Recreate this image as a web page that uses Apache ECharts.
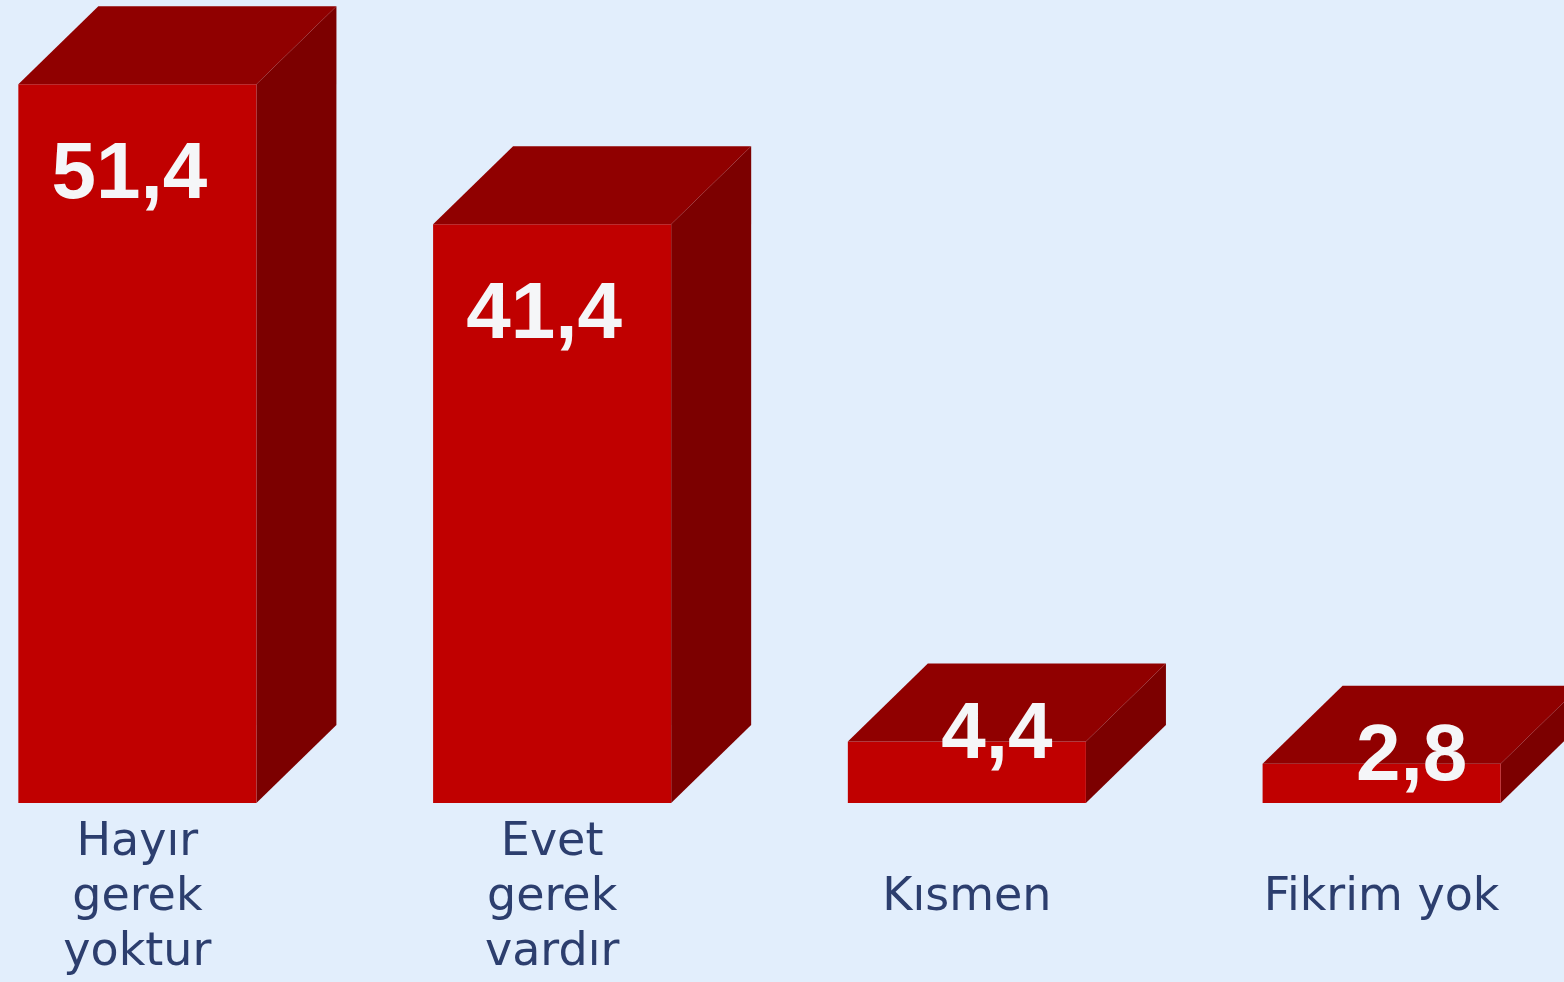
<!DOCTYPE html>
<html>
<head>
<meta charset="utf-8">
<style>
html,body{margin:0;padding:0;background:#e2eefc;overflow:hidden;width:1564px;height:982px;position:relative;}
#chart{position:absolute;left:-70px;top:0;width:1659px;height:982px;}
</style>
<script src="https://cdn.jsdelivr.net/npm/echarts@6/dist/echarts.min.js"></script>
</head>
<body>
<div id="chart"></div>
<script>
const categories = ['Hayır\ngerek\nyoktur', 'Evet\ngerek\nvardır', 'Kısmen', 'Fikrim yok'];
const values = [51.4, 41.4, 4.4, 2.8];
const valueLabels = ['51,4', '41,4', '4,4', '2,8'];

const chart = echarts.init(document.getElementById('chart'));
const DX = 80, DY = 78;

function renderItem(params, api) {
  const idx = api.value(0);
  const val = api.value(1);
  const top = api.coord([idx, val]);
  const base = api.coord([idx, 0]);
  const band = api.size([1, 0])[0];
  const w = band * 0.574;
  const x = top[0] - w / 2;
  const yT = top[1];
  const yB = base[1];
  const big = (yB - yT) > 200;
  const labelX = big ? top[0] - 8 : top[0] + DX / 2 - 10;
  const labelY = big ? yT + 92 : yT - 6;
  return {
    type: 'group',
    children: [
      { type: 'polygon', shape: { points: [[x + w, yT], [x + w + DX, yT - DY], [x + w + DX, yB - DY], [x + w, yB]] },
        style: { fill: '#7c0000' } },
      { type: 'rect', shape: { x: x, y: yT, width: w, height: yB - yT },
        style: { fill: '#c00000' } },
      { type: 'polygon', shape: { points: [[x, yT], [x + DX, yT - DY], [x + w + DX, yT - DY], [x + w, yT]] },
        style: { fill: '#900000' } },
      { type: 'text', x: labelX, y: labelY,
        style: { text: valueLabels[idx], fill: '#f5f6f8', fontSize: 80, fontWeight: 'bold',
                 fontFamily: 'Liberation Sans', align: 'center', verticalAlign: 'middle' } }
    ]
  };
}

chart.setOption({
  backgroundColor: '#e2eefc',
  animation: false,
  grid: { left: 0, right: 0, top: 6, bottom: 179 },
  xAxis: {
    type: 'category',
    data: categories,
    axisLine: { show: false },
    axisTick: { show: false },
    axisLabel: {
      interval: 0,
      margin: 95,
      verticalAlign: 'middle',
      fontSize: 46,
      lineHeight: 55,
      fontFamily: 'DejaVu Sans',
      color: '#2c3e6e'
    }
  },
  yAxis: {
    type: 'value', min: 0, max: 57,
    show: false,
    splitLine: { show: false }
  },
  series: [{
    type: 'custom',
    renderItem: renderItem,
    clip: false,
    encode: { x: 0, y: 1 },
    data: values.map((v, i) => [i, v])
  }]
});
</script>
</body>
</html>
